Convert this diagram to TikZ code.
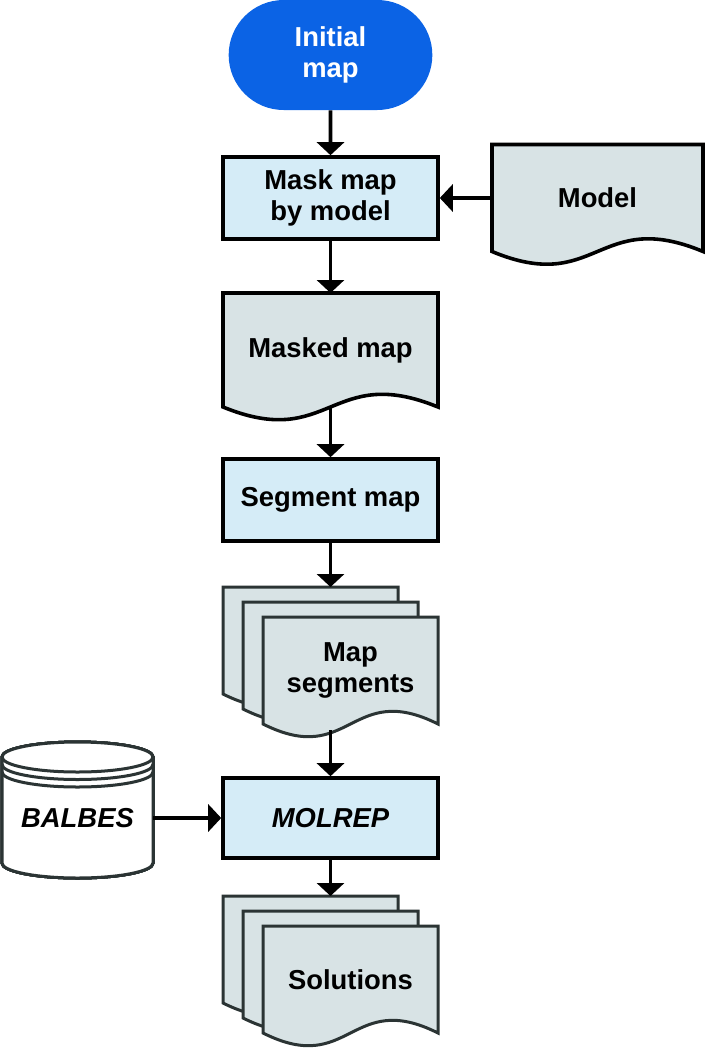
\documentclass[tikz,border=0pt]{standalone}
\usepackage{fontspec}
\setmainfont{Liberation Sans}
\usepackage{tikz}
\usetikzlibrary{shapes, arrows.meta, positioning, backgrounds}

\definecolor{startblue}{HTML}{0B63E5}
\definecolor{procfill}{HTML}{D5ECF7}
\definecolor{docfill}{HTML}{D8E3E5}
\definecolor{docgray}{HTML}{2B3434}

% document outline round a node, wavy bottom edge
\newcommand{\docshape}[2]{%
  \filldraw[#2] (#1.north west) -- (#1.north east) -- (#1.south east)
    .. controls ([yshift=22pt]#1.south) and ([yshift=-22pt]#1.south) .. (#1.south west) -- cycle;}

\begin{document}
\begin{tikzpicture}[x=0.5pt, y=0.5pt,
 every node/.style={font=\fontsize{13.7}{15.5}\selectfont\bfseries, align=center},
 start node/.style={rounded rectangle, fill=startblue, text=white, minimum width=108.5pt, minimum height=55pt},
 proc node/.style={rectangle, draw, line width=1.8pt, fill=procfill, minimum width=107.5pt, minimum height=41pt},
 doc node/.style={rectangle, outer sep=0pt, inner sep=0pt},
 sheet node/.style={doc node, minimum width=87.5pt, minimum height=53.5pt},
 doc line/.style={draw=black, line width=1.8pt, fill=docfill},
 stack line/.style={draw=docgray, line width=1.5pt, fill=docfill},
 flow/.style={draw, line width=1.8pt, -{Triangle[width=13.5pt,length=6.5pt]}}]
 \useasboundingbox (0,0) rectangle (708,-1050);

 \node[start node] (init) at (330.5,-55) {Initial\\map};
 \node[proc node] (mask) at (330.5,-198) {Mask map\\by model};
 \node[doc node, minimum width=105.5pt, minimum height=53.5pt] (model) at (597.5,-198) {Model};
 \node[doc node, minimum width=107.5pt, minimum height=57pt] (masked) at (330.5,-350) {Masked map};
 \node[proc node] (segment) at (330.5,-500) {Segment map};
 \foreach \n/\x/\y in {segsA/310.5/-640.5, segsB/330.5/-655.5, solsA/310.5/-949.5, solsB/330.5/-964.5}
   \node[sheet node] (\n) at (\x,\y) {};
 \node[sheet node] (segs) at (350.5,-670.5) {Map\\segments};
 \node[proc node, minimum height=40pt] (molrep) at (330.5,-818) {\itshape MOLREP};
 \node[sheet node] (sols) at (350.5,-979.5) {Solutions};
 \node[inner sep=0pt, minimum width=75.5pt] (balbes) at (77.5,-818) {\itshape BALBES};

 \begin{scope}[on background layer]
  \docshape{model}{doc line}
  \docshape{masked}{doc line}
  \foreach \n in {segsA, segsB, segs, solsA, solsB, sols}
    \docshape{\n}{stack line}
  % database drum
  \filldraw[draw=docgray, line width=1.5pt, fill=white] (2,-757) -- (2,-863)
    arc[start angle=180, end angle=360, x radius=37.75pt, y radius=7.5pt] -- (153,-757)
    arc[start angle=0, end angle=180, x radius=37.75pt, y radius=7.5pt] -- cycle;
  \foreach \d in {0, 7.5, 15}
    \draw[docgray, line width=1.5pt] (2,-757-\d) arc[start angle=180, end angle=360, x radius=37.75pt, y radius=7.5pt];
 \end{scope}

 \draw[flow] (init) -- (mask);
 \draw[flow] (model.west) -- (mask.east);
 \draw[flow] (mask) -- (masked);
 \draw[flow] (masked.south) -- (segment.north);
 \draw[flow] (segment.south) -- (segment.south |- segsA.north);
 \draw[flow] ([yshift=-3pt]segs.south -| molrep.north) -- (molrep.north);
 \draw[flow] (balbes) -- (molrep);
 \draw[flow] (molrep.south) -- (molrep.south |- solsA.north);
\end{tikzpicture}
\end{document}
